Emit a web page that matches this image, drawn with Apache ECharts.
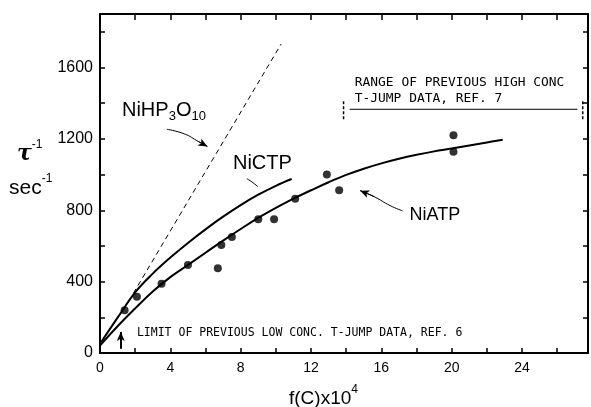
<!DOCTYPE html>
<html>
<head>
<meta charset="utf-8">
<script src="https://cdn.jsdelivr.net/npm/echarts@6/dist/echarts.min.js"></script>
<style>
  html, body { margin: 0; padding: 0; background: #fff; }
  #chart { width: 591px; height: 407px; }
</style>
</head>
<body>
<div id="chart"></div>
<script>
  // f(C) x 10^4  vs  1/tau (sec^-1)
  var atpPoints = [[1.4, 240], [2.1, 315], [3.5, 388], [5.0, 493], [6.7, 475], [6.9, 606], [7.5, 650],
    [9.0, 750], [9.9, 750], [11.1, 865], [12.9, 1000], [13.6, 912], [20.1, 1220], [20.1, 1128]]
  var atpCurve = [[0, 42], [1, 150], [2, 250], [3, 345], [4, 425], [5, 493], [6, 562], [7, 630],
    [8, 695], [9, 757], [10, 813], [11, 865], [12, 912], [13, 957], [14, 998], [15, 1033], [16, 1063],
    [17, 1089], [18, 1111], [19, 1130], [20, 1146], [21, 1163], [22, 1180], [22.9, 1195]]
  var ctpCurve = [[0, 52], [1, 198], [2, 340], [3, 445], [4, 535], [5, 617], [6, 693],
    [7, 764], [8, 829], [9, 887], [10, 937], [10.9, 975]]
  var hp3o10Line = [[1.9, 335], [10.3, 1732]]

  // leader lines and brackets, in data units
  var hpArrow = [[3.8, 1254], [4.8, 1228], [5.6, 1185], [6.1, 1158]]
  var ctpLeader = [[8.35, 977], [8.65, 958], [8.98, 932]]
  var atpArrow = [[17.2, 797], [16.5, 826], [15.6, 876], [14.8, 910]]
  var rangeBar = [[14.2, 1366], [27.15, 1366]]
  var rangeLeft = [[13.85, 1310], [13.85, 1411]]
  var rangeRight = [[27.45, 1310], [27.45, 1411]]
  var lowArrow = [[1.18, 24], [1.18, 118]]

  // text anchors (left, middle), in data units
  var hpLabelAt = [1.25, 1360]
  var ctpLabelAt = [7.56, 1064]
  var atpLabelAt = [17.6, 772]
  var rangeLabelAt = [14.49, 1518]
  var rangeLabel2At = [14.49, 1423]
  var lowLabelAt = [2.1, 110]

  var xMax = 27.75
  var yMax = 1900
  var numFont = "'Liberation Sans Narrow', 'Liberation Sans', Arial, sans-serif"
  var letterFont = "'DejaVu Sans Mono', 'Liberation Mono', monospace"

  function lineSeries(data, width, dash, smooth) {
    return {
      type: 'line',
      data: data,
      smooth: smooth,
      showSymbol: false,
      symbol: 'none',
      silent: true,
      lineStyle: {color: '#000', width: width, type: dash || 'solid'}
    }
  }

  function arrowOn(series, from, to) {
    series.markLine = {
      silent: true,
      symbol: ['none', 'arrow'],
      symbolSize: [6, 9],
      label: {show: false},
      lineStyle: {color: '#000', width: 1, type: 'solid'},
      data: [[{coord: from}, {coord: to}]]
    }
    return series
  }

  var chart = echarts.init(document.getElementById('chart'))
  var axisLine = {show: true, onZero: false, lineStyle: {color: '#000', width: 2}}

  var option = {
    animation: false,
    backgroundColor: '#fff',
    grid: {left: 100, right: 3, top: 14, bottom: 54, containLabel: false},
    xAxis: [{
      type: 'value', min: 0, max: xMax, interval: 2, position: 'bottom',
      axisLine: axisLine,
      axisTick: {show: true, inside: true, length: 5, lineStyle: {color: '#000', width: 1.5}},
      axisLabel: {
        color: '#000', fontSize: 14, fontFamily: numFont, margin: 8,
        formatter: function (v) { return v % 4 === 0 ? String(v) : '' }
      },
      splitLine: {show: false}
    }, {
      type: 'value', min: 0, max: xMax, interval: 2, position: 'top',
      axisLine: axisLine,
      axisTick: {show: true, inside: true, length: 6, lineStyle: {color: '#000', width: 1.5}},
      axisLabel: {show: false},
      splitLine: {show: false}
    }],
    yAxis: [{
      type: 'value', min: 0, max: yMax, interval: 200, position: 'left',
      axisLine: axisLine,
      axisTick: {show: true, inside: true, length: 5, lineStyle: {color: '#000', width: 1.5}},
      axisLabel: {
        color: '#000', fontSize: 16, fontFamily: numFont, margin: 7,
        formatter: function (v) { return v % 400 === 0 ? String(v) : '' }
      },
      splitLine: {show: false}
    }, {
      type: 'value', min: 0, max: yMax, interval: 200, position: 'right',
      axisLine: axisLine,
      axisTick: {show: true, inside: true, length: 5, lineStyle: {color: '#000', width: 1.5}},
      axisLabel: {show: false},
      splitLine: {show: false}
    }],
    series: [
      lineSeries(atpCurve, 2, 'solid', 0.4),
      lineSeries(ctpCurve, 2, 'solid', 0.4),
      lineSeries(hp3o10Line, 1, [5, 4], false),
      {
        type: 'scatter', data: atpPoints, symbol: 'circle', symbolSize: 8, silent: true,
        itemStyle: {color: '#000'}
      },
      arrowOn(lineSeries(hpArrow, 1, 'solid', true), hpArrow[2], hpArrow[3]),
      lineSeries(ctpLeader, 1, 'solid', true),
      arrowOn(lineSeries(atpArrow, 1, 'solid', true), atpArrow[2], atpArrow[3]),
      lineSeries(rangeBar, 1, 'solid', false),
      lineSeries(rangeLeft, 1.5, [3, 2], false),
      lineSeries(rangeRight, 1.5, [3, 2], false),
      arrowOn(lineSeries(lowArrow, 1.5, 'solid', false), lowArrow[0], lowArrow[1])
    ]
  }
  chart.setOption(option)

  function px(p) {
    return chart.convertToPixel({xAxisIndex: 0, yAxisIndex: 0}, p)
  }

  function label(at, text, font, size, rich) {
    var p = px(at)
    return {
      type: 'text', x: p[0], y: p[1], silent: true,
      style: {
        text: text, fill: '#000', font: size + 'px ' + font,
        verticalAlign: 'middle', align: 'left', rich: rich
      }
    }
  }

  var sansFont = "'Liberation Sans', Arial, sans-serif"
  var subRich = {
    a: {fontSize: 20, fontFamily: sansFont, lineHeight: 26, verticalAlign: 'middle', color: '#000'},
    s: {fontSize: 13, fontFamily: sansFont, lineHeight: 26, verticalAlign: 'bottom', color: '#000'}
  }

  chart.setOption({
    graphic: [
      label(hpLabelAt, '{a|NiHP}{s|3}{a|O}{s|10}', sansFont, 20, subRich),
      label(ctpLabelAt, 'NiCTP', sansFont, 20),
      label(atpLabelAt, 'NiATP', sansFont, 18),
      label(rangeLabelAt, 'RANGE OF PREVIOUS HIGH CONC', letterFont, 12.9),
      label(rangeLabel2At, 'T-JUMP DATA, REF. 7', letterFont, 12.9),
      label(lowLabelAt, 'LIMIT OF PREVIOUS LOW CONC. T-JUMP DATA, REF. 6', letterFont, 11.5),
      {
        type: 'text', x: 17, y: 152, silent: true,
        style: {
          text: '{t|τ}{u|-1}', verticalAlign: 'middle',
          rich: {
            t: {fontSize: 22, fontFamily: 'DejaVu Serif', fontStyle: 'italic', fontWeight: 'bold', color: '#000', verticalAlign: 'bottom', lineHeight: 26},
            u: {fontSize: 12, fontFamily: sansFont, color: '#000', verticalAlign: 'top', lineHeight: 26}
          }
        }
      },
      {
        type: 'text', x: 9, y: 186, silent: true,
        style: {
          text: '{t|sec}{u|-1}', verticalAlign: 'middle',
          rich: {
            t: {fontSize: 21, fontFamily: sansFont, color: '#000', verticalAlign: 'bottom', lineHeight: 26},
            u: {fontSize: 12, fontFamily: sansFont, color: '#000', verticalAlign: 'top', lineHeight: 26}
          }
        }
      },
      {
        type: 'text', x: 289, y: 396, silent: true,
        style: {
          text: '{t|f(C)x10}{u|4}', verticalAlign: 'middle',
          rich: {
            t: {fontSize: 19, fontFamily: sansFont, color: '#000', verticalAlign: 'bottom', lineHeight: 24},
            u: {fontSize: 12, fontFamily: sansFont, color: '#000', verticalAlign: 'top', lineHeight: 24}
          }
        }
      }
    ]
  })
</script>
</body>
</html>
